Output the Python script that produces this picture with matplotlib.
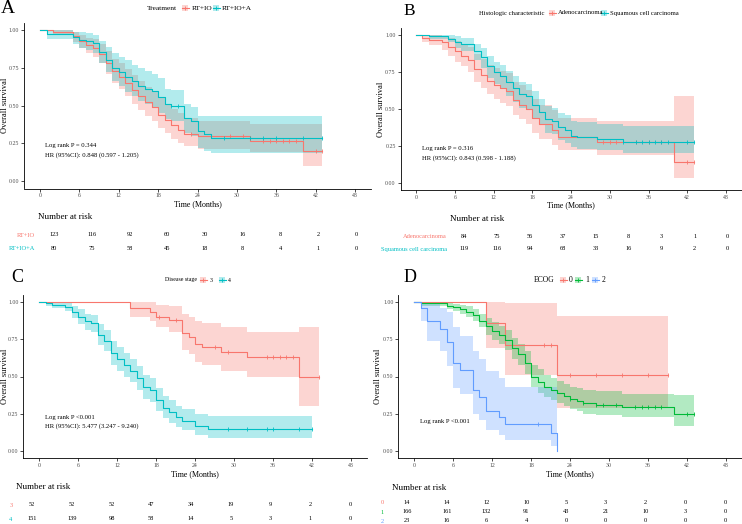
import matplotlib.pyplot as plt
import numpy as np
from matplotlib.patches import Rectangle
from matplotlib.lines import Line2D

plt.rcParams['font.family'] = ['Liberation Serif', 'DejaVu Serif']

RED = '#F8766D'
CYAN = '#00BFC4'
GREEN = '#00BA38'
BLUE = '#619CFF'

risk_times = [0, 6, 12, 18, 24, 30, 36, 42, 48]

# ---- A: treatment ----
a_io_t = [0, 2, 5, 6, 7, 8, 9, 10, 11, 12, 13, 14, 15, 16, 17, 18, 19, 20, 21, 22, 24, 32, 40]
a_io_s = [1.0, 0.99, 0.96, 0.93, 0.90, 0.88, 0.84, 0.78, 0.73, 0.69, 0.65, 0.60, 0.56, 0.52, 0.49, 0.44, 0.405, 0.37, 0.335, 0.31, 0.295, 0.265, 0.20]
a_io_lo = [1.0, 0.97, 0.92, 0.88, 0.85, 0.82, 0.78, 0.71, 0.65, 0.61, 0.56, 0.51, 0.47, 0.43, 0.40, 0.35, 0.32, 0.28, 0.25, 0.23, 0.21, 0.19, 0.10]
a_io_hi = [1.0, 1.0, 0.99, 0.97, 0.95, 0.94, 0.91, 0.86, 0.81, 0.78, 0.74, 0.70, 0.66, 0.62, 0.59, 0.55, 0.51, 0.48, 0.45, 0.42, 0.40, 0.38, 0.38]
a_io_cens = [23, 29, 31, 34, 35, 36, 37, 38, 39, 42, 43]

a_ioa_t = [0, 1, 5, 6, 7, 8, 9, 10, 11, 12, 13, 14, 15, 16, 17, 18, 19, 20, 22, 23, 24, 25, 26]
a_ioa_s = [1.0, 0.973, 0.954, 0.936, 0.925, 0.914, 0.854, 0.80, 0.748, 0.72, 0.69, 0.66, 0.63, 0.61, 0.594, 0.555, 0.51, 0.50, 0.42, 0.40, 0.33, 0.31, 0.285]
a_ioa_lo = [1.0, 0.94, 0.91, 0.88, 0.87, 0.85, 0.78, 0.72, 0.66, 0.63, 0.59, 0.56, 0.53, 0.51, 0.49, 0.45, 0.41, 0.40, 0.32, 0.30, 0.22, 0.20, 0.185]
a_ioa_hi = [1.0, 1.0, 0.99, 0.99, 0.98, 0.97, 0.93, 0.89, 0.85, 0.82, 0.80, 0.77, 0.75, 0.73, 0.71, 0.68, 0.61, 0.60, 0.51, 0.49, 0.43, 0.43, 0.43]
a_ioa_cens = [20, 21, 28, 32, 34, 36, 40, 43]

a_labels = ['RT+IO', 'RT+IO+A']
a_risk_io = [123, 116, 92, 60, 30, 16, 8, 2, 0]
a_risk_ioa = [80, 75, 58, 45, 18, 8, 4, 1, 0]

# ---- B: histology ----
b_ad_t = [0, 1, 2, 4, 5, 6, 7, 8, 9, 10, 11, 12, 13, 14, 15, 16, 17, 18, 19, 21, 22, 28, 40]
b_ad_s = [1.0, 0.98, 0.965, 0.95, 0.92, 0.89, 0.86, 0.83, 0.77, 0.73, 0.69, 0.665, 0.64, 0.62, 0.56, 0.53, 0.50, 0.44, 0.40, 0.36, 0.31, 0.28, 0.14]
b_ad_lo = [1.0, 0.95, 0.93, 0.90, 0.86, 0.82, 0.79, 0.75, 0.68, 0.64, 0.60, 0.57, 0.54, 0.52, 0.46, 0.43, 0.40, 0.34, 0.30, 0.26, 0.22, 0.19, 0.035]
b_ad_hi = [1.0, 1.0, 1.0, 0.99, 0.98, 0.96, 0.94, 0.92, 0.87, 0.84, 0.80, 0.78, 0.76, 0.74, 0.68, 0.66, 0.63, 0.57, 0.53, 0.49, 0.44, 0.42, 0.59]
b_ad_cens = [29, 30, 31, 34, 36, 38, 42, 43]

b_sq_t = [0, 2, 5, 6, 7, 9, 10, 11, 12, 13, 14, 15, 16, 17, 18, 19, 20, 21, 22, 23, 24, 25, 28, 32]
b_sq_s = [1.0, 0.99, 0.975, 0.95, 0.94, 0.89, 0.85, 0.79, 0.75, 0.72, 0.68, 0.64, 0.60, 0.585, 0.53, 0.48, 0.43, 0.42, 0.38, 0.36, 0.32, 0.31, 0.30, 0.28]
b_sq_lo = [1.0, 0.97, 0.95, 0.91, 0.89, 0.83, 0.78, 0.71, 0.67, 0.64, 0.59, 0.55, 0.51, 0.49, 0.44, 0.39, 0.34, 0.33, 0.29, 0.27, 0.24, 0.23, 0.22, 0.20]
b_sq_hi = [1.0, 1.0, 1.0, 0.99, 0.98, 0.94, 0.91, 0.86, 0.82, 0.80, 0.76, 0.72, 0.68, 0.67, 0.62, 0.57, 0.52, 0.51, 0.47, 0.46, 0.42, 0.41, 0.40, 0.385]
b_sq_cens = [32, 34, 35, 36, 37, 38, 39, 42, 43]

b_labels = ['Adenocarcinoma', 'Squamous cell carcinoma']
b_risk_ad = [84, 75, 56, 37, 15, 8, 3, 1, 0]
b_risk_sq = [119, 116, 94, 68, 33, 16, 9, 2, 0]

# ---- C: disease stage ----
c_s3_t = [0, 14, 17, 18, 20, 22, 23, 24, 25, 28, 32, 40]
c_s3_s = [1.0, 0.96, 0.935, 0.90, 0.88, 0.79, 0.767, 0.72, 0.70, 0.667, 0.63, 0.50]
c_s3_lo = [1.0, 0.90, 0.87, 0.83, 0.80, 0.68, 0.65, 0.60, 0.58, 0.54, 0.50, 0.305]
c_s3_hi = [1.0, 1.0, 1.0, 0.98, 0.97, 0.92, 0.90, 0.87, 0.86, 0.83, 0.80, 0.83]
c_s3_cens = [18.5, 21, 27, 29, 35, 36, 37, 38, 39, 43]

c_s4_t = [0, 1, 2, 4, 5, 6, 7, 8, 9, 10, 11, 12, 13, 14, 15, 16, 17, 18, 19, 20, 21, 22, 24, 26]
c_s4_s = [1.0, 0.99, 0.98, 0.965, 0.93, 0.90, 0.87, 0.86, 0.78, 0.74, 0.66, 0.62, 0.58, 0.54, 0.49, 0.43, 0.41, 0.34, 0.29, 0.26, 0.225, 0.20, 0.17, 0.145]
c_s4_lo = [1.0, 0.97, 0.96, 0.94, 0.89, 0.85, 0.81, 0.80, 0.71, 0.67, 0.58, 0.54, 0.50, 0.46, 0.41, 0.35, 0.33, 0.27, 0.22, 0.19, 0.16, 0.14, 0.11, 0.09]
c_s4_hi = [1.0, 1.0, 1.0, 0.99, 0.97, 0.95, 0.92, 0.91, 0.85, 0.81, 0.74, 0.70, 0.66, 0.62, 0.57, 0.51, 0.49, 0.42, 0.37, 0.34, 0.30, 0.28, 0.25, 0.235]
c_s4_cens = [29, 32, 35, 36, 40, 42]

c_labels = ['3', '4']
c_risk_s3 = [52, 52, 52, 47, 34, 19, 9, 2, 0]
c_risk_s4 = [151, 139, 98, 58, 14, 5, 3, 1, 0]

# ---- D: ECOG ----
d_e0_t = [0, 11, 14, 22]
d_e0_s = [1.0, 0.857, 0.714, 0.51]
d_e0_lo = [1.0, 0.69, 0.51, 0.29]
d_e0_hi = [1.0, 1.0, 0.99, 0.905]
d_e0_cens = [20, 21, 24, 28, 32, 36, 39]

d_e1_t = [0, 1, 5, 6, 7, 8, 9, 10, 11, 12, 13, 14, 15, 16, 17, 18, 19, 20, 21, 22, 23, 24, 25, 26, 28, 32, 40]
d_e1_s = [1.0, 0.99, 0.975, 0.965, 0.95, 0.935, 0.91, 0.875, 0.84, 0.805, 0.78, 0.745, 0.69, 0.65, 0.59, 0.50, 0.465, 0.43, 0.41, 0.39, 0.37, 0.35, 0.335, 0.32, 0.31, 0.293, 0.248]
d_e1_lo = [1.0, 0.975, 0.95, 0.94, 0.92, 0.90, 0.87, 0.83, 0.78, 0.745, 0.72, 0.68, 0.62, 0.58, 0.52, 0.43, 0.39, 0.36, 0.34, 0.32, 0.30, 0.28, 0.27, 0.25, 0.24, 0.225, 0.165]
d_e1_hi = [1.0, 1.0, 0.99, 0.985, 0.98, 0.97, 0.95, 0.92, 0.89, 0.865, 0.84, 0.81, 0.76, 0.72, 0.67, 0.58, 0.55, 0.51, 0.49, 0.47, 0.45, 0.43, 0.42, 0.41, 0.40, 0.385, 0.375]
d_e1_cens = [24, 26, 28, 29, 31, 34, 35, 36, 37, 38, 42, 43]

d_e2_t = [0, 1, 2, 4, 5, 6, 7, 9, 10, 11, 13, 14, 21, 22]
d_e2_s = [1.0, 0.957, 0.87, 0.82, 0.73, 0.59, 0.545, 0.41, 0.36, 0.27, 0.225, 0.18, 0.12, 0.0]
d_e2_lo = [1.0, 0.87, 0.74, 0.67, 0.57, 0.42, 0.38, 0.25, 0.21, 0.14, 0.11, 0.075, 0.035, 0.0]
d_e2_hi = [1.0, 1.0, 0.99, 0.96, 0.93, 0.83, 0.77, 0.67, 0.62, 0.54, 0.49, 0.43, 0.43, 0.0]
d_e2_cens = [19]

d_labels = ['0', '1', '2']
d_risk_e0 = [14, 14, 12, 10, 5, 3, 2, 0, 0]
d_risk_e1 = [166, 161, 132, 91, 43, 21, 10, 3, 0]
d_risk_e2 = [23, 16, 6, 4, 0, 0, 0, 0, 0]

W, H = 742, 524
fig = plt.figure(figsize=(W / 100, H / 100), dpi=100)


def box(l, t, r, b):
    return [l / W, 1 - b / H, (r - l) / W, (b - t) / H]


def ftext(x, y, s, **kw):
    fig.text(x / W, 1 - y / H, s, **kw)


def key(x, y, color):
    fig.add_artist(Rectangle(((x - 3) / W, 1 - (y + 3) / H), 6 / W, 6 / H,
                             transform=fig.transFigure, color=color, alpha=0.3, lw=0))
    fig.add_artist(Line2D([(x - 3.5) / W, (x + 3.5) / W], [1 - y / H] * 2,
                          transform=fig.transFigure, color=color, lw=0.8))
    fig.add_artist(Line2D([x / W], [1 - y / H], transform=fig.transFigure,
                          color=color, marker='|', ms=3, mew=0.6))


def km(ax, t, s, lo, hi, end, cens, color):
    tt = list(t) + [end]
    ax.fill_between(tt, list(lo) + [lo[-1]], list(hi) + [hi[-1]], step='post',
                    color=color, alpha=0.3, lw=0)
    ax.step(tt, list(s) + [s[-1]], where='post', color=color, lw=0.8)
    cy = [s[np.searchsorted(t, c, side='right') - 1] for c in cens]
    ax.plot(cens, cy, ls='none', marker='|', ms=3, mew=0.6, color=color)


def setup(ax, ylab_x):
    ax.set_xlim(-2.4, 50.4)
    ax.set_ylim(-0.05, 1.05)
    ax.set_xticks(range(0, 49, 6))
    ax.set_yticks([0, 0.25, 0.5, 0.75, 1])
    ax.set_yticklabels(['0.00', '0.25', '0.50', '0.75', '1.00'])
    ax.spines[['top', 'right']].set_visible(False)
    ax.spines[['left', 'bottom']].set_linewidth(0.6)
    ax.tick_params(labelsize=4.2, labelcolor='#4D4D4D', length=2, width=0.5, pad=1.5)
    ax.set_xlabel('Time (Months)', fontsize=5.8, labelpad=1)
    ax.set_ylabel('Overall survival', fontsize=6, va='center')
    ax.yaxis.set_label_coords(ylab_x, 0.5)


def risk_table(pos, labels, rows, colors, pad):
    tab = fig.add_axes(pos)
    tab.set_xlim(0, 48)
    tab.set_ylim(len(rows) - 0.5, -0.5)
    for i, row in enumerate(rows):
        for t, n in zip(risk_times, row):
            tab.text(t, i, str(n), ha='center', va='center', fontsize=4.6)
    tab.set_yticks(range(len(rows)))
    tab.set_yticklabels(labels, fontsize=4.6)
    for lab, c in zip(tab.get_yticklabels(), colors):
        lab.set_color(c)
    tab.tick_params(axis='y', length=0, pad=pad)
    tab.set_xticks([])
    for sp in tab.spines.values():
        sp.set_visible(False)
    tab.patch.set_visible(False)


# panel A
ax = fig.add_axes(box(24.25, 22.5, 370.75, 188.5))
setup(ax, -0.056)
km(ax, a_io_t, a_io_s, a_io_lo, a_io_hi, 43, a_io_cens, RED)
km(ax, a_ioa_t, a_ioa_s, a_ioa_lo, a_ioa_hi, 43, a_ioa_cens, CYAN)
ax.text(0.8, 0.232, 'Log rank P = 0.344', fontsize=4.8, va='center')
ax.text(0.8, 0.17, 'HR (95%CI): 0.848 (0.597 - 1.205)', fontsize=4.8, va='center')
risk_table(box(54, 228.5, 356, 254.5), a_labels, [a_risk_io, a_risk_ioa], [RED, CYAN], 19 * 0.72)
ftext(1, 13, 'A', fontsize=14)
ftext(147, 8, 'Treatment', fontsize=5.3, va='center')
key(185, 8, RED)
ftext(192, 8, a_labels[0], fontsize=5.3, va='center')
key(216, 8, CYAN)
ftext(222, 8, a_labels[1], fontsize=5.3, va='center')
ftext(38, 217, 'Number at risk', fontsize=6.5, va='center')

# panel B
ax = fig.add_axes(box(400.5, 27.6, 741.5, 190.4))
setup(ax, -0.057)
km(ax, b_ad_t, b_ad_s, b_ad_lo, b_ad_hi, 43, b_ad_cens, RED)
km(ax, b_sq_t, b_sq_s, b_sq_lo, b_sq_hi, 43, b_sq_cens, CYAN)
ax.text(0.9, 0.234, 'Log rank P = 0.316', fontsize=4.8, va='center')
ax.text(0.9, 0.169, 'HR (95%CI): 0.843 (0.598 - 1.188)', fontsize=4.8, va='center')
risk_table(box(463.7, 229.5, 727.7, 255.5), b_labels, [b_risk_ad, b_risk_sq], [RED, CYAN], 16.7 * 0.72)
ftext(403, 15, 'B', fontsize=12.5)
ftext(479, 13, 'Histologic characteristic', fontsize=4.8, va='center')
key(552, 13, RED)
ftext(558, 13, b_labels[0], fontsize=4.8, va='center')
key(604, 13, CYAN)
ftext(610, 13, b_labels[1], fontsize=4.8, va='center')
ftext(450, 219, 'Number at risk', fontsize=6.5, va='center')

# panel C
ax = fig.add_axes(box(23.4, 294.55, 366.6, 458.45))
setup(ax, -0.054)
km(ax, c_s3_t, c_s3_s, c_s3_lo, c_s3_hi, 43, c_s3_cens, RED)
km(ax, c_s4_t, c_s4_s, c_s4_lo, c_s4_hi, 42, c_s4_cens, CYAN)
ax.text(0.9, 0.228, 'Log rank P <0.001', fontsize=4.8, va='center')
ax.text(0.9, 0.168, 'HR (95%CI): 5.477 (3.247 - 9.240)', fontsize=4.8, va='center')
risk_table(box(32, 498, 350, 526), c_labels, [c_risk_s3, c_risk_s4], [RED, CYAN], 19.5 * 0.72)
ftext(11, 282, 'C', fontsize=13)
ftext(165, 280, 'Disease stage', fontsize=4.2, va='center')
key(203, 280, RED)
ftext(210, 280, c_labels[0], fontsize=4.2, va='center')
key(222, 280, CYAN)
ftext(228, 280, c_labels[1], fontsize=4.2, va='center')
ftext(16, 487, 'Number at risk', fontsize=6.5, va='center')

# panel D
ax = fig.add_axes(box(398.4, 294.55, 741.6, 458.45))
setup(ax, -0.059)
km(ax, d_e0_t, d_e0_s, d_e0_lo, d_e0_hi, 39, d_e0_cens, RED)
km(ax, d_e1_t, d_e1_s, d_e1_lo, d_e1_hi, 43, d_e1_cens, GREEN)
km(ax, d_e2_t, d_e2_s, d_e2_lo, d_e2_hi, 22, d_e2_cens, BLUE)
ax.text(0.9, 0.195, 'Log rank P <0.001', fontsize=4.8, va='center')
risk_table(box(407, 497.25, 725, 525.75), d_labels, [d_risk_e0, d_risk_e1, d_risk_e2],
           [RED, GREEN, BLUE], 23 * 0.72)
ftext(404, 282, 'D', fontsize=13)
ftext(534, 280, 'ECOG', fontsize=5.5, va='center')
key(563, 280, RED)
ftext(569, 280, d_labels[0], fontsize=5.5, va='center')
key(578, 280, GREEN)
ftext(585, 280, d_labels[1], fontsize=5.5, va='center')
key(595, 280, BLUE)
ftext(602, 280, d_labels[2], fontsize=5.5, va='center')
ftext(392, 488, 'Number at risk', fontsize=6.5, va='center')

plt.savefig('out.png', dpi=100)
